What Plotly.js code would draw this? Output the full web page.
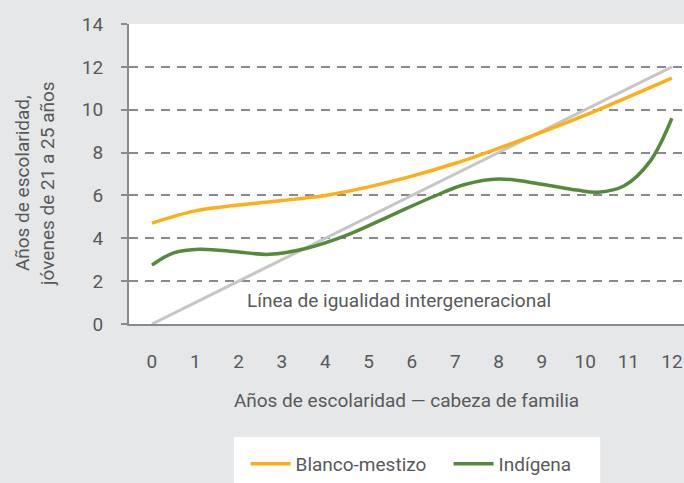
<!DOCTYPE html>
<html>
<head>
<meta charset="utf-8">
<script src="https://cdn.plot.ly/plotly-3.0.1.min.js"></script>
<style>html,body{margin:0;padding:0;background:#e6e7e8;}#chart{width:684px;height:483px;}</style>
</head>
<body>
<div id="chart"></div>
<script>
const xEquality = [0, 12];
const yEquality = [0, 12];

const xBlanco = [0, 1, 2, 3, 4, 5, 6, 7, 8, 9, 10, 11, 12];
const yBlanco = [4.71, 5.28, 5.55, 5.76, 6.0, 6.4, 6.9, 7.5, 8.2, 8.95, 9.75, 10.6, 11.47];

const xIndigena = [0, 0.5, 1.1, 2, 2.7, 3.5, 4.5, 5.5, 6.5, 7.2, 8, 9, 9.8, 10.3, 10.9, 11.5, 12];
const yIndigena = [2.75, 3.32, 3.49, 3.36, 3.25, 3.5, 4.15, 5.05, 5.95, 6.5, 6.77, 6.52, 6.25, 6.15, 6.45, 7.6, 9.6];

const xTickVals = [0, 1, 2, 3, 4, 5, 6, 7, 8, 9, 10, 11, 12];
const yTickVals = [0, 2, 4, 6, 8, 10, 12, 14];

const names = ['Blanco-mestizo', 'Indígena'];
const annotationText = 'Línea de igualidad intergeneracional';
const xTitle = 'Años de escolaridad — cabeza de familia';
const yTitle = 'Años de escolaridad,<br>jóvenes de 21 a 25 años';

const FONT = 'Roboto, sans-serif';
const TXT = '#58595b';
const GRID = '#8a8a8c';
const FS = 19;

const traces = [
  {x: xEquality, y: yEquality, mode: 'lines', line: {color: '#c6c6c6', width: 3}, showlegend: false, hoverinfo: 'skip'},
  {x: xBlanco, y: yBlanco, name: names[0], mode: 'lines', line: {color: '#fcaf17', width: 3.5, shape: 'spline', smoothing: 1}},
  {x: xIndigena, y: yIndigena, name: names[1], mode: 'lines', line: {color: '#548a3a', width: 3.5, shape: 'spline', smoothing: 1}}
];

const layout = {
  width: 684, height: 483,
  paper_bgcolor: '#e6e7e8',
  plot_bgcolor: '#ffffff',
  margin: {l: 129, r: 0, t: 24, b: 159},
  font: {family: FONT, size: FS, color: TXT},
  xaxis: {
    range: [-0.53, 12.28],
    tickvals: xTickVals,
    ticks: '',
    showgrid: false,
    zeroline: false,
    showline: true, linecolor: GRID, linewidth: 2,
    ticklabelstandoff: 19,
    tickfont: {family: FONT, size: FS, color: TXT},
    title: {text: xTitle, font: {family: FONT, size: FS, color: TXT}, standoff: 22}
  },
  yaxis: {
    range: [0, 14],
    tickvals: yTickVals,
    ticks: 'outside', ticklen: 6, tickwidth: 2, tickcolor: GRID,
    showgrid: true, gridcolor: GRID, gridwidth: 2, griddash: '9px,7px',
    zeroline: false,
    showline: true, linecolor: GRID, linewidth: 2,
    ticklabelstandoff: 14,
    tickfont: {family: FONT, size: FS, color: TXT}
  },
  shapes: [
    {type: 'rect', xref: 'paper', yref: 'paper', x0: 0.189, x1: 0.849, y0: -0.377, y1: -0.55,
     fillcolor: '#ffffff', line: {width: 0}, layer: 'below'}
  ],
  annotations: [
    {x: 5.7, y: 1.12, xref: 'x', yref: 'y', text: annotationText, showarrow: false,
     font: {family: FONT, size: FS, color: TXT}},
    {x: -0.1694, y: 0.47, xref: 'paper', yref: 'paper', text: yTitle, showarrow: false,
     textangle: -90, xanchor: 'center', yanchor: 'middle',
     font: {family: FONT, size: FS, color: TXT}}
  ],
  legend: {
    orientation: 'h', x: 0.21, xanchor: 'left', y: -0.467, yanchor: 'middle',
    bgcolor: 'rgba(0,0,0,0)', font: {family: FONT, size: FS, color: TXT},
    itemwidth: 40, entrywidth: 148, entrywidthmode: 'pixels'
  },
  showlegend: true
};

Plotly.newPlot('chart', traces, layout, {displayModeBar: false, staticPlot: true});
</script>
</body>
</html>
